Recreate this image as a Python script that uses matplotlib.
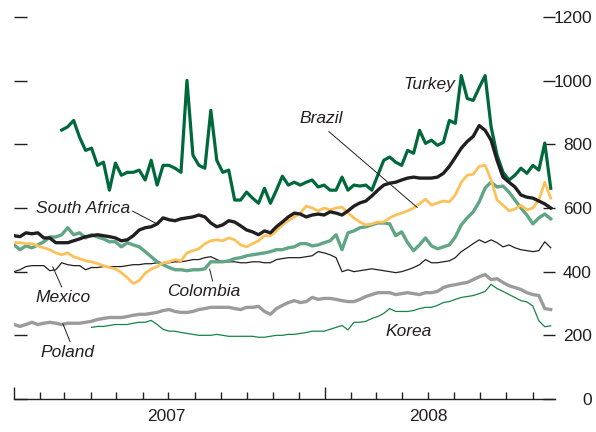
import numpy as np
import pandas as pd
import matplotlib
matplotlib.use("Agg")
import matplotlib.pyplot as plt
import matplotlib.dates as mdates

plt.rcParams['font.family'] = ['Liberation Sans', 'DejaVu Sans']

# weekly observations, basis points
weeks = pd.date_range("2007-01-01", periods=91, freq="7D")
nan = np.nan

turkey = [nan] * 8 + [
    845, 855, 875, 822, 781, 788, 734, 744, 656, 741,
    703, 712, 712, 719, 688, 750, 672, 734, 734, 725,
    712, 1001, 766, 734, 725, 907, 750, 712, 719, 625,
    625, 650, 631, 615, 662, 615, 656, 700, 672, 681,
    672, 681, 688, 666, 672, 656, 656, 697, 656, 672,
    669, 672, 656, 703, 750, 760, 744, 734, 781, 772,
    844, 803, 813, 797, 806, 875, 866, 1016, 944, 938,
    978, 1016, 855, 766, 712, 688, 703, 725, 709, 734,
    719, 804, 662]

south_africa = [
    513, 510, 522, 519, 522, 506, 506, 491, 491, 491,
    497, 503, 510, 513, 516, 513, 510, 506, 497, 500,
    513, 531, 538, 541, 550, 569, 563, 560, 566, 569,
    572, 578, 572, 553, 541, 547, 560, 556, 544, 531,
    525, 516, 528, 522, 541, 556, 572, 584, 581, 572,
    578, 581, 578, 588, 584, 578, 591, 606, 616, 622,
    638, 656, 672, 678, 681, 688, 694, 697, 694, 694,
    694, 697, 709, 731, 759, 788, 809, 825, 859, 844,
    813, 750, 697, 681, 666, 641, 634, 631, 622, 613,
    600]

brazil = [
    491, 491, 488, 488, 481, 475, 469, 459, 453, 459,
    447, 441, 434, 431, 425, 419, 413, 409, 397, 381,
    363, 372, 395, 408, 416, 428, 431, 438, 434, 459,
    466, 472, 488, 497, 500, 497, 506, 500, 484, 478,
    488, 497, 513, 513, 528, 547, 560, 572, 584, 606,
    600, 591, 600, 594, 600, 603, 584, 569, 556, 547,
    550, 556, 556, 569, 578, 584, 591, 600, 613, 628,
    609, 616, 622, 619, 641, 681, 703, 706, 731, 734,
    688, 625, 609, 591, 597, 609, 594, 600, 625, 681,
    631]

colombia = [
    484, 469, 481, 475, 484, 494, 509, 509, 516, 538,
    516, 522, 506, 516, 509, 503, 494, 494, 478, 491,
    484, 478, 463, 447, 431, 422, 413, 406, 406, 403,
    406, 406, 409, 431, 431, 431, 434, 441, 444, 450,
    453, 456, 459, 463, 469, 469, 475, 478, 488, 488,
    481, 484, 491, 497, 516, 469, 522, 528, 538, 541,
    547, 553, 553, 550, 513, 525, 491, 466, 484, 506,
    481, 472, 478, 484, 509, 547, 569, 588, 619, 663,
    681, 666, 669, 650, 625, 600, 578, 550, 569, 581,
    566]

mexico = [
    400, 406, 416, 419, 419, 419, 403, 406, 428, 422,
    419, 419, 406, 413, 413, 416, 416, 416, 416, 419,
    422, 422, 425, 425, 428, 428, 428, 431, 431, 434,
    438, 438, 444, 447, 438, 431, 431, 431, 428, 428,
    431, 431, 428, 428, 438, 441, 444, 444, 444, 447,
    450, 463, 459, 453, 444, 400, 406, 400, 403, 406,
    409, 406, 403, 400, 397, 400, 406, 413, 422, 438,
    428, 428, 431, 434, 444, 463, 475, 488, 500, 491,
    500, 491, 478, 484, 475, 469, 466, 463, 466, 494,
    475]

poland = [
    234, 228, 234, 241, 234, 238, 241, 238, 234, 238,
    238, 238, 241, 244, 250, 253, 256, 256, 256, 259,
    263, 266, 266, 269, 272, 278, 281, 275, 272, 272,
    275, 281, 284, 288, 288, 288, 288, 284, 281, 288,
    288, 291, 275, 266, 284, 294, 303, 309, 303, 306,
    319, 313, 316, 316, 313, 309, 306, 306, 313, 322,
    328, 334, 334, 334, 328, 331, 334, 331, 328, 334,
    334, 338, 350, 356, 359, 363, 366, 375, 384, 391,
    375, 378, 366, 356, 350, 344, 334, 328, 325, 284,
    281]

korea = [nan] * 13 + [
    225, 228, 228, 231, 234, 234, 234,
    238, 241, 241, 247, 234, 219, 213, 213, 209, 206,
    203, 200, 200, 200, 203, 200, 197, 197, 197, 197,
    197, 194, 194, 197, 200, 200, 203, 203, 206, 209,
    213, 213, 213, 219, 225, 231, 217, 241, 241, 244,
    253, 259, 269, 284, 275, 275, 275, 278, 284, 288,
    288, 294, 303, 306, 313, 319, 322, 325, 331, 338,
    360, 347, 338, 328, 319, 309, 305, 292, 246, 227,
    230]

ink = '#231F20'
fs = 12.5

fig = plt.figure(figsize=(5.96, 4.32), dpi=100)
ax = fig.add_axes([0.0235, 0.0764, 0.9077, 0.8842])

ax.plot(weeks, turkey, color='#00693C', lw=2.3)
ax.plot(weeks, poland, color='#9B9B9B', lw=2.4)
ax.plot(weeks, korea, color='#168447', lw=0.9)
ax.plot(weeks, mexico, color=ink, lw=0.9)
ax.plot(weeks, colombia, color='#60A584', lw=2.4)
ax.plot(weeks, brazil, color='#FDC15A', lw=2.0)
ax.plot(weeks, south_africa, color=ink, lw=2.4)

ax.set_xlim(pd.Timestamp("2007-01-01"), pd.Timestamp("2008-09-27"))
ax.set_ylim(0, 1200)

for s in ['left', 'right', 'top']:
    ax.spines[s].set_visible(False)
ax.spines['bottom'].set_color(ink)
ax.spines['bottom'].set_linewidth(1.0)

# x axis: years long, months short, pointing up
ax.xaxis.set_major_locator(mdates.YearLocator())
ax.xaxis.set_minor_locator(mdates.MonthLocator())
ax.xaxis.set_major_formatter(plt.NullFormatter())
ax.tick_params(axis='x', which='major', direction='in', length=8.6, width=1, color=ink)
ax.tick_params(axis='x', which='minor', direction='in', length=5, width=1, color=ink)

ax.set_yticks(range(0, 1201, 200))
ax.tick_params(axis='y', direction='in', length=9, width=1, color=ink,
               left=True, right=True, labelleft=False, labelright=True,
               labelsize=fs, labelcolor=ink, pad=26.5)
for lab in ax.get_yticklabels():
    lab.set_horizontalalignment('right')

year_tr = ax.get_xaxis_transform()
ax.text(pd.Timestamp("2007-06-29"), -0.047, "2007", transform=year_tr,
        ha='center', va='center', fontsize=fs, color=ink)
ax.text(pd.Timestamp("2008-05-01"), -0.047, "2008", transform=year_tr,
        ha='center', va='center', fontsize=fs, color=ink)


def wk(w):
    return pd.Timestamp("2007-01-01") + pd.Timedelta(days=7 * w)


labels = [
    ("Turkey", 69.6, 987),
    ("Brazil", 51.5, 880),
    ("South Africa", 11.5, 600),
    ("Mexico", 8.2, 318),
    ("Colombia", 31.8, 339),
    ("Poland", 8.9, 145),
    ("Korea", 66.2, 211),
]
for name, w, v in labels:
    ax.text(wk(w), v, name, ha='center', va='center', fontsize=fs,
            style='italic', color=ink)

leaders = [
    ((52.8, 840), (67.6, 602)),
    ((19.9, 590), (24.1, 549)),
    ((6.5, 415), (8.0, 352)),
    ((32.8, 408), (33.3, 371)),
    ((8.2, 236), (9.4, 180)),
]
for (w0, v0), (w1, v1) in leaders:
    ax.plot([wk(w0), wk(w1)], [v0, v1], color=ink, lw=0.7)

fig.savefig("out.png", dpi=100, facecolor='white')
